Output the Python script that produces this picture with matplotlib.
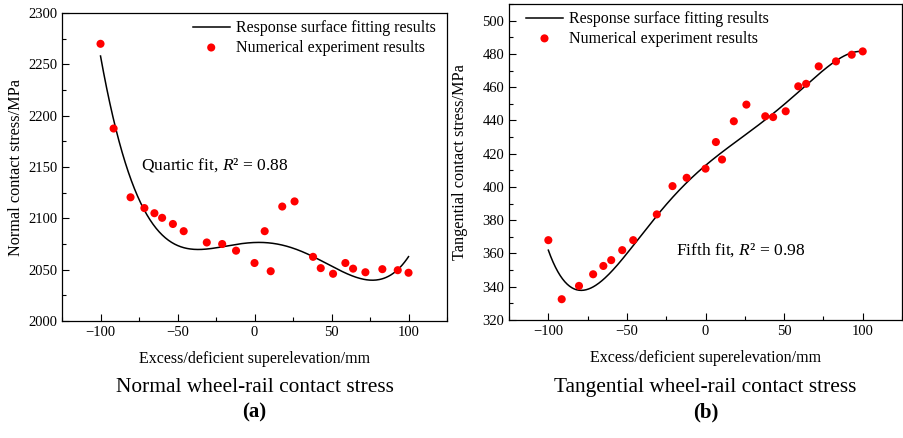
import numpy as np
import matplotlib
matplotlib.use("Agg")
import matplotlib.pyplot as plt
from matplotlib.ticker import MultipleLocator

plt.rcParams['font.family'] = ['Liberation Serif', 'DejaVu Serif']
plt.rcParams['mathtext.fontset'] = 'custom'
plt.rcParams['mathtext.it'] = 'Liberation Serif:italic'
plt.rcParams['mathtext.rm'] = 'Liberation Serif'

# superelevation deviation (mm), shared by both panels
superelev = [-100, -91.5, -80.5, -71.5, -65, -60, -53, -46, -31, -21, -12, 0,
             6.6, 10.5, 18, 26, 38, 43, 51, 59, 64, 72, 83, 93, 100]

normal_stress = [2270, 2187.5, 2120.5, 2110, 2105, 2100.5, 2094.5, 2087.5, 2076.5,
                 2075, 2068.5, 2056.5, 2087.5, 2048.5, 2111.5, 2116.5, 2062.5,
                 2051.5, 2046, 2056.5, 2051, 2047.5, 2050.5, 2049.5, 2047]

tangential_stress = [368, 332.5, 340.5, 347.5, 352.5, 356, 362, 368, 383.5, 400.5,
                     405.5, 411, 427, 416.5, 439.5, 449.5, 442.5, 442, 445.5, 460.5,
                     462, 472.5, 475.5, 479.5, 481.5]

# response surface values at a few control positions
normal_fit_x = [-100, -91.4, -71.9, -52.4, -35, 3, 36.4, 60, 82, 100]
normal_fit_y = [2264, 2186, 2111, 2079, 2068.5, 2075, 2063, 2049, 2039, 2063]

tangential_fit_x = [-100, -81, -46, -31, 0, 9.3, 38, 58, 79, 100]
tangential_fit_y = [362, 338, 364, 384, 412, 420, 441, 456, 473, 481.5]

panels = [
    dict(y=normal_stress, fx=normal_fit_x, fy=normal_fit_y, deg=4,
         ylim=(2000, 2300), major=50, minor=25, ylabel='Normal contact stress/MPa',
         labelpad=3, note='Quartic fit, $R$² = 0.88', note_xy=(-73.5, 2152),
         title='Normal wheel-rail contact stress', tag='(a)',
         rect=[0.0686, 0.2671, 0.4259, 0.7032],
         leg=dict(loc='upper right', bbox_to_anchor=(1.0, 1.012))),
    dict(y=tangential_stress, fx=tangential_fit_x, fy=tangential_fit_y, deg=5,
         ylim=(320, 510), major=20, minor=10, ylabel='Tangential contact stress/MPa',
         labelpad=10, note='Fifth fit, $R$² = 0.98', note_xy=(-18.8, 362),
         title='Tangential wheel-rail contact stress', tag='(b)',
         rect=[0.5631, 0.2694, 0.4347, 0.7215],
         leg=dict(loc='upper left', bbox_to_anchor=(0.015, 1.012))),
]

fig = plt.figure(figsize=(9.04, 4.38), dpi=100)

for p in panels:
    ax = fig.add_axes(p['rect'])

    # polynomial response surface
    coef = np.polyfit(p['fx'], p['fy'], p['deg'])
    xs = np.linspace(-100, 100, 400)
    ax.plot(xs, np.polyval(coef, xs), color='black', lw=1.1,
            label='Response surface fitting results')
    ax.scatter(superelev, p['y'], s=34, color='#ff0000', edgecolors='none', zorder=3,
               label='Numerical experiment results')

    ax.set_xlim(-125, 125)
    ax.set_ylim(*p['ylim'])
    ax.xaxis.set_major_locator(MultipleLocator(50))
    ax.xaxis.set_minor_locator(MultipleLocator(25))
    ax.yaxis.set_major_locator(MultipleLocator(p['major']))
    ax.yaxis.set_minor_locator(MultipleLocator(p['minor']))
    ax.tick_params(which='both', direction='in', top=False, right=False,
                   labelsize=10.5)
    ax.tick_params(which='major', length=5, width=0.8)
    ax.tick_params(which='minor', length=3, width=0.8)
    ax.set_xticks([-100, -50, 0, 50, 100])
    ax.set_xticklabels(['\u2212100', '\u221250', '0', '50', '100'])
    for s in ax.spines.values():
        s.set_linewidth(0.9)

    ax.set_ylabel(p['ylabel'], fontsize=11.7, labelpad=p['labelpad'])
    ax.set_xlabel('Excess/deficient superelevation/mm', fontsize=11.5, labelpad=9)
    ax.text(*p['note_xy'], p['note'], fontsize=12.6, va='center')

    ax.legend(fontsize=11.5, frameon=False, handlelength=2.3,
              handletextpad=0.4, labelspacing=0.2, borderaxespad=0.3, **p['leg'])

    cx = p['rect'][0] + p['rect'][2] / 2
    fig.text(cx, 0.115, p['title'], ha='center', va='center', fontsize=15.4)
    fig.text(cx, 0.059, p['tag'], ha='center', va='center', fontsize=15,
             fontweight='bold')

fig.savefig('out.png', dpi=100)
